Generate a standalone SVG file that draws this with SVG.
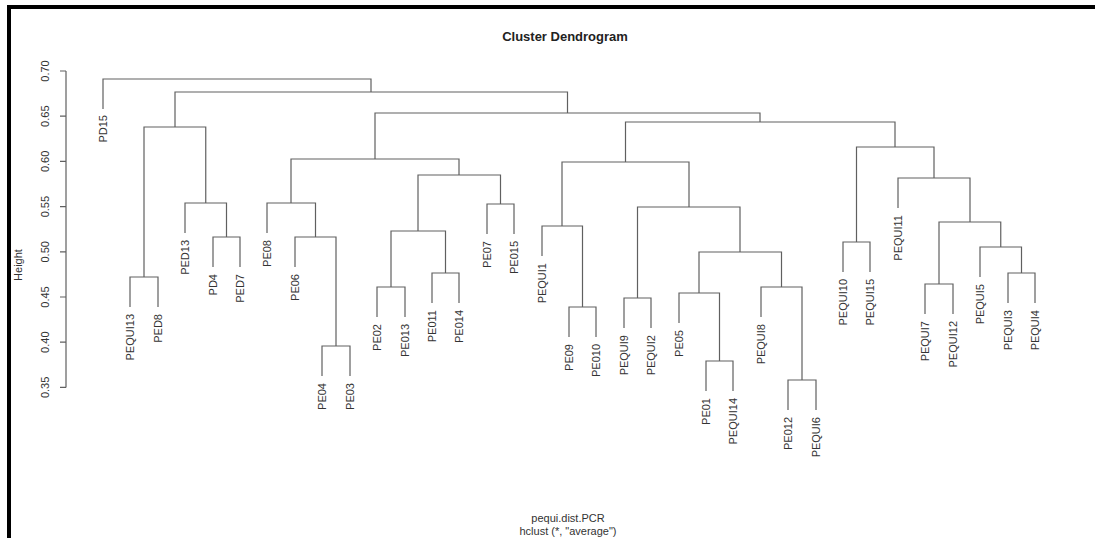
<svg xmlns="http://www.w3.org/2000/svg" width="1095" height="538" viewBox="0 0 1095 538">
<style>
text{font-family:"Liberation Sans",Arial,sans-serif;fill:#333}
.lbl{font-size:11px;text-anchor:end}
.tk{font-size:11px;text-anchor:middle}
.ln{fill:none;stroke:#606060;stroke-width:1.2}
</style>
<rect x="0" y="0" width="1095" height="538" fill="#fff"/>
<rect x="7" y="5" width="1088" height="4" fill="#000"/>
<rect x="7" y="5" width="4" height="533" fill="#000"/>
<g id="title"><text x="565" y="41" style="font-size:13px;font-weight:bold;text-anchor:middle;fill:#222">Cluster Dendrogram</text></g>
<g id="subtitle"><text x="568" y="522" style="font-size:11px;text-anchor:middle">pequi.dist.PCR</text><text x="568" y="535" style="font-size:11px;text-anchor:middle">hclust (*, "average")</text></g>
<g id="axis">
<path class="ln" d="M66 71V387.4M60 71H66M60 116.2H66M60 161.4H66M60 206.6H66M60 251.8H66M60 297H66M60 342.2H66M60 387.4H66"/>
<text class="tk" transform="translate(49,71) rotate(-90)">0.70</text>
<text class="tk" transform="translate(49,116.2) rotate(-90)">0.65</text>
<text class="tk" transform="translate(49,161.4) rotate(-90)">0.60</text>
<text class="tk" transform="translate(49,206.6) rotate(-90)">0.55</text>
<text class="tk" transform="translate(49,251.8) rotate(-90)">0.50</text>
<text class="tk" transform="translate(49,297) rotate(-90)">0.45</text>
<text class="tk" transform="translate(49,342.2) rotate(-90)">0.40</text>
<text class="tk" transform="translate(49,387.4) rotate(-90)">0.35</text>
<text class="tk" transform="translate(22,265) rotate(-90)">Height</text>
</g>
<g id="connectors">
<path class="ln" d="M130 307V277H158V307"/>
<path class="ln" d="M213 267V237H240V267"/>
<path class="ln" d="M185 233V203H226.5V237"/>
<path class="ln" d="M144 277V127H205.75V203"/>
<path class="ln" d="M322 376V346H350V376"/>
<path class="ln" d="M295 267V237H336V346"/>
<path class="ln" d="M267 233V203H315.5V237"/>
<path class="ln" d="M377 317V287H405V317"/>
<path class="ln" d="M432 303V273H459V303"/>
<path class="ln" d="M391 287V231H445.5V273"/>
<path class="ln" d="M487 234V204H514V234"/>
<path class="ln" d="M418 231V175H500.5V204"/>
<path class="ln" d="M291 203V159H459V175"/>
<path class="ln" d="M569 337V307H596V337"/>
<path class="ln" d="M542 256V226H582.5V307"/>
<path class="ln" d="M624 328V298H651V328"/>
<path class="ln" d="M706 391V361H733V391"/>
<path class="ln" d="M679 323V293H719.5V361"/>
<path class="ln" d="M788 410V380H816V410"/>
<path class="ln" d="M761 317V287H802V380"/>
<path class="ln" d="M699 293V252H781.5V287"/>
<path class="ln" d="M637.5 298V207H740V252"/>
<path class="ln" d="M562 226V162H689V207"/>
<path class="ln" d="M843 272V242H870V272"/>
<path class="ln" d="M925 314V284H953V314"/>
<path class="ln" d="M1008 303V273H1035V303"/>
<path class="ln" d="M980 277V247H1021.5V273"/>
<path class="ln" d="M939 284V222H1000.75V247"/>
<path class="ln" d="M898 208V178H970V222"/>
<path class="ln" d="M856.5 242V147H934V178"/>
<path class="ln" d="M625.5 162V122H895V147"/>
<path class="ln" d="M375 159V113H760V122"/>
<path class="ln" d="M175 127V92H567.5V113"/>
<path class="ln" d="M103 109V79H371V92"/>
</g>
<g id="leaf-PD15"><text class="lbl" transform="translate(107,115) rotate(-90)">PD15</text></g>
<g id="leaf-PEQUI13"><text class="lbl" transform="translate(134,314) rotate(-90)">PEQUI13</text></g>
<g id="leaf-PED8"><text class="lbl" transform="translate(162,314) rotate(-90)">PED8</text></g>
<g id="leaf-PED13"><text class="lbl" transform="translate(189,240) rotate(-90)">PED13</text></g>
<g id="leaf-PD4"><text class="lbl" transform="translate(217,274) rotate(-90)">PD4</text></g>
<g id="leaf-PED7"><text class="lbl" transform="translate(244,274) rotate(-90)">PED7</text></g>
<g id="leaf-PE08"><text class="lbl" transform="translate(271,240) rotate(-90)">PE08</text></g>
<g id="leaf-PE06"><text class="lbl" transform="translate(299,274) rotate(-90)">PE06</text></g>
<g id="leaf-PE04"><text class="lbl" transform="translate(326,383) rotate(-90)">PE04</text></g>
<g id="leaf-PE03"><text class="lbl" transform="translate(354,383) rotate(-90)">PE03</text></g>
<g id="leaf-PE02"><text class="lbl" transform="translate(381,324) rotate(-90)">PE02</text></g>
<g id="leaf-PE013"><text class="lbl" transform="translate(409,324) rotate(-90)">PE013</text></g>
<g id="leaf-PE011"><text class="lbl" transform="translate(436,310) rotate(-90)">PE011</text></g>
<g id="leaf-PE014"><text class="lbl" transform="translate(463,310) rotate(-90)">PE014</text></g>
<g id="leaf-PE07"><text class="lbl" transform="translate(491,241) rotate(-90)">PE07</text></g>
<g id="leaf-PE015"><text class="lbl" transform="translate(518,241) rotate(-90)">PE015</text></g>
<g id="leaf-PEQUI1"><text class="lbl" transform="translate(546,263) rotate(-90)">PEQUI1</text></g>
<g id="leaf-PE09"><text class="lbl" transform="translate(573,344) rotate(-90)">PE09</text></g>
<g id="leaf-PE010"><text class="lbl" transform="translate(600,344) rotate(-90)">PE010</text></g>
<g id="leaf-PEQUI9"><text class="lbl" transform="translate(628,335) rotate(-90)">PEQUI9</text></g>
<g id="leaf-PEQUI2"><text class="lbl" transform="translate(655,335) rotate(-90)">PEQUI2</text></g>
<g id="leaf-PE05"><text class="lbl" transform="translate(683,330) rotate(-90)">PE05</text></g>
<g id="leaf-PE01"><text class="lbl" transform="translate(710,398) rotate(-90)">PE01</text></g>
<g id="leaf-PEQUI14"><text class="lbl" transform="translate(737,398) rotate(-90)">PEQUI14</text></g>
<g id="leaf-PEQUI8"><text class="lbl" transform="translate(765,324) rotate(-90)">PEQUI8</text></g>
<g id="leaf-PE012"><text class="lbl" transform="translate(792,417) rotate(-90)">PE012</text></g>
<g id="leaf-PEQUI6"><text class="lbl" transform="translate(820,417) rotate(-90)">PEQUI6</text></g>
<g id="leaf-PEQUI10"><text class="lbl" transform="translate(847,279) rotate(-90)">PEQUI10</text></g>
<g id="leaf-PEQUI15"><text class="lbl" transform="translate(874,279) rotate(-90)">PEQUI15</text></g>
<g id="leaf-PEQUI11"><text class="lbl" transform="translate(902,215) rotate(-90)">PEQUI11</text></g>
<g id="leaf-PEQUI7"><text class="lbl" transform="translate(929,321) rotate(-90)">PEQUI7</text></g>
<g id="leaf-PEQUI12"><text class="lbl" transform="translate(957,321) rotate(-90)">PEQUI12</text></g>
<g id="leaf-PEQUI5"><text class="lbl" transform="translate(984,284) rotate(-90)">PEQUI5</text></g>
<g id="leaf-PEQUI3"><text class="lbl" transform="translate(1012,310) rotate(-90)">PEQUI3</text></g>
<g id="leaf-PEQUI4"><text class="lbl" transform="translate(1039,310) rotate(-90)">PEQUI4</text></g>
</svg>
